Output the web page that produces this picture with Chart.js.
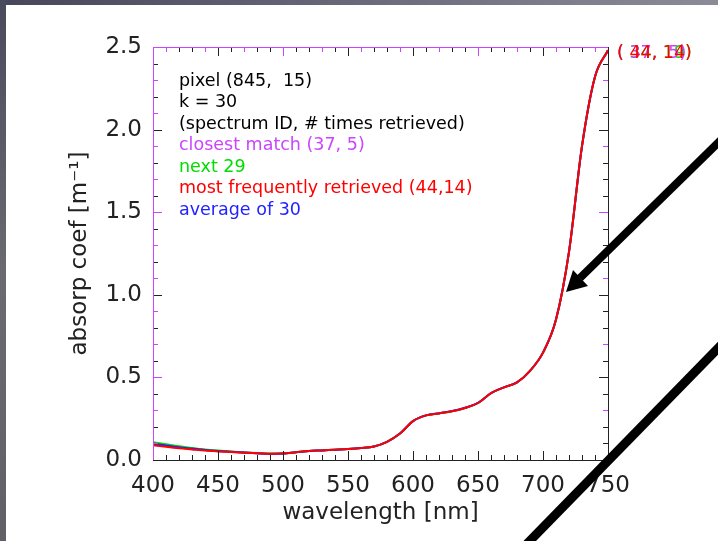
<!DOCTYPE html>
<html>
<head>
<meta charset="utf-8">
<script src="https://cdn.jsdelivr.net/npm/chart.js@4.4.1/dist/chart.umd.min.js"></script>
<style>
  html, body { margin: 0; padding: 0; background: #fff; }
  #wrap { width: 718px; height: 541px; position: relative; }
</style>
</head>
<body>
<div id="wrap"><canvas id="absChart" width="718" height="541"></canvas></div>
<script>
// wavelengths (nm) and absorption values
const wavelengths = [400, 410, 420, 430, 440, 450, 460, 470, 480, 490, 500, 510, 520, 530, 540, 550, 560, 570,
  580, 590, 600, 610, 620, 630, 640, 650, 660, 670, 680, 690, 700, 710, 720, 730, 740, 750];

// most frequently retrieved (44,14)
const mostFrequent = [0.090, 0.080, 0.071, 0.064, 0.057, 0.052, 0.048, 0.044, 0.041, 0.038, 0.040, 0.047, 0.054,
  0.058, 0.062, 0.066, 0.072, 0.082, 0.110, 0.160, 0.235, 0.270, 0.282, 0.295, 0.315, 0.345, 0.405, 0.440,
  0.470, 0.540, 0.650, 0.850, 1.260, 1.900, 2.320, 2.480];
// next 29
const next29 = [0.107, 0.095, 0.083, 0.073, 0.064, 0.057, 0.051, 0.046, 0.042, 0.039, 0.040, 0.047, 0.054,
  0.058, 0.062, 0.066, 0.072, 0.082, 0.110, 0.160, 0.235, 0.270, 0.282, 0.295, 0.315, 0.345, 0.405, 0.440,
  0.470, 0.540, 0.650, 0.850, 1.260, 1.900, 2.320, 2.480];
// average of 30
const average30 = [0.100, 0.088, 0.077, 0.069, 0.061, 0.055, 0.050, 0.045, 0.041, 0.037, 0.039, 0.047, 0.054,
  0.058, 0.062, 0.066, 0.072, 0.082, 0.110, 0.160, 0.235, 0.270, 0.283, 0.296, 0.316, 0.346, 0.404, 0.440,
  0.470, 0.540, 0.650, 0.850, 1.260, 1.900, 2.320, 2.480];
// closest match (37,5)
const closestMatch = [0.095, 0.084, 0.075, 0.067, 0.060, 0.054, 0.049, 0.045, 0.041, 0.038, 0.040, 0.047, 0.054,
  0.058, 0.062, 0.066, 0.072, 0.082, 0.110, 0.160, 0.235, 0.270, 0.282, 0.295, 0.315, 0.345, 0.405, 0.440,
  0.470, 0.540, 0.650, 0.850, 1.260, 1.900, 2.320, 2.480];

const xTickLabels = [400, 450, 500, 550, 600, 650, 700, 750];
const yTickLabels = [0.0, 0.5, 1.0, 1.5, 2.0, 2.5];

const MAGENTA = "#cc44ff";
const GREEN = "#00dd00";
const RED = "#ff0000";
const BLUE = "#2222ff";
const INK = "#222222";
const FONT = "'DejaVu Sans', sans-serif";

const infoLines = [
  { text: "pixel (845,  15)", color: "#000000" },
  { text: "k = 30", color: "#000000" },
  { text: "(spectrum ID, # times retrieved)", color: "#000000" },
  { text: "closest match (37, 5)", color: MAGENTA },
  { text: "next 29", color: GREEN },
  { text: "most frequently retrieved (44,14)", color: RED },
  { text: "average of 30", color: BLUE },
];

function pairs(ys) {
  return wavelengths.map((w, i) => ({ x: w, y: ys[i] }));
}

// frame, background, inward ticks, text block and the arrows
const decorations = {
  id: "decorations",
  beforeDraw(chart) {
    const c = chart.ctx;
    c.save();
    c.fillStyle = "#ffffff";
    c.fillRect(0, 0, chart.width, chart.height);
    const top = c.createLinearGradient(0, 0, chart.width, 0);
    top.addColorStop(0, "#46465c");
    top.addColorStop(1, "#8c8c98");
    c.fillStyle = top;
    c.fillRect(0, 0, chart.width, 5);
    const left = c.createLinearGradient(0, 0, 0, chart.height);
    left.addColorStop(0, "#4a4a5e");
    left.addColorStop(0.5, "#6a6a70");
    left.addColorStop(1, "#606066");
    c.fillStyle = left;
    c.fillRect(0, 0, 6, chart.height);
    c.restore();
  },
  afterDraw(chart) {
    const c = chart.ctx;
    const { left, right, top, bottom } = chart.chartArea;
    const xs = chart.scales.x, ys = chart.scales.y;
    c.save();
    c.lineWidth = 1;

    // x ticks every 10 nm, majors at labels
    for (let v = 400, i = 0; v <= 750; v += 10, i++) {
      const px = Math.round(xs.getPixelForValue(v)) + 0.5;
      const major = v % 50 === 0;
      const len = major ? 9 : 5;
      c.strokeStyle = INK;
      c.beginPath(); c.moveTo(px, bottom); c.lineTo(px, bottom - len); c.stroke();
      c.strokeStyle = i % 3 === 1 ? MAGENTA : INK;
      c.beginPath(); c.moveTo(px, top); c.lineTo(px, top + len); c.stroke();
    }
    // y ticks every 0.1
    for (let i = 0; i <= 25; i++) {
      const py = Math.round(ys.getPixelForValue(i / 10)) + 0.5;
      const major = i % 5 === 0;
      const len = major ? 9 : 5;
      c.strokeStyle = i % 2 === 1 ? MAGENTA : INK;
      c.beginPath(); c.moveTo(left, py); c.lineTo(left + len, py); c.stroke();
      c.strokeStyle = i % 4 === 3 ? MAGENTA : INK;
      c.beginPath(); c.moveTo(right, py); c.lineTo(right - len, py); c.stroke();
    }
    // frame
    c.strokeStyle = INK;
    c.beginPath(); c.moveTo(left, bottom + 0.5); c.lineTo(right + 0.5, bottom + 0.5); c.lineTo(right + 0.5, top); c.stroke();
    c.strokeStyle = MAGENTA;
    c.beginPath(); c.moveTo(left + 0.5, bottom); c.lineTo(left + 0.5, top + 0.5); c.lineTo(right, top + 0.5); c.stroke();

    // text block
    c.font = "17.5px " + FONT;
    c.textBaseline = "middle";
    c.textAlign = "left";
    infoLines.forEach((ln, i) => {
      c.fillStyle = ln.color;
      c.fillText(ln.text, 179, 81 + i * 21.5);
    });
    // overprinted curve labels at the top right
    const tagX = right + 9, tagY = top + 6;
    [["( 34, 19)", GREEN], ["( 37,  5)", MAGENTA], ["( 44, 14)", RED]].forEach(([t, col]) => {
      c.fillStyle = col;
      c.fillText(t, tagX, tagY);
    });

    // black arrow and stroke drawn over the figure
    c.strokeStyle = "#000";
    c.fillStyle = "#000";
    c.lineCap = "butt";
    c.lineWidth = 8;
    c.beginPath(); c.moveTo(724, 137); c.lineTo(580, 278); c.stroke();
    c.beginPath(); c.moveTo(566, 292); c.lineTo(588, 286); c.lineTo(573, 270); c.closePath(); c.fill();
    c.lineWidth = 9;
    c.beginPath(); c.moveTo(726, 340); c.lineTo(518, 553); c.stroke();
    c.restore();
  },
};

new Chart(document.getElementById("absChart").getContext("2d"), {
  type: "line",
  data: {
    datasets: [
      { label: "most frequently retrieved", data: pairs(mostFrequent), borderColor: RED },
      { label: "average of 30", data: pairs(average30), borderColor: BLUE },
      { label: "next 29", data: pairs(next29), borderColor: GREEN },
      { label: "closest match", data: pairs(closestMatch), borderColor: MAGENTA },
    ].map(d => Object.assign(d, { borderWidth: 2, pointRadius: 0, cubicInterpolationMode: "monotone", fill: false })),
  },
  options: {
    responsive: false,
    animation: false,
    layout: { padding: { left: 0, right: 110, top: 47, bottom: 0 } },
    plugins: { legend: { display: false }, tooltip: { enabled: false } },
    scales: {
      x: {
        type: "linear",
        min: 400,
        max: 750,
        grid: { display: false, drawTicks: false },
        border: { display: false },
        afterBuildTicks: s => { s.ticks = xTickLabels.map(v => ({ value: v })); },
        afterFit: s => { s.height = 81; },
        ticks: {
          autoSkip: false, maxRotation: 0, padding: 12, color: "#222",
          font: { family: FONT, size: 23 },
          callback: v => String(v),
        },
        title: { display: true, text: "wavelength [nm]", color: "#222", font: { family: FONT, size: 23 }, padding: { top: 14, bottom: 14 } },
      },
      y: {
        min: 0,
        max: 2.5,
        grid: { display: false, drawTicks: false },
        border: { display: false },
        afterBuildTicks: s => { s.ticks = yTickLabels.map(v => ({ value: v })); },
        afterFit: s => { s.width = 153; },
        ticks: {
          padding: 11, color: "#222",
          font: { family: FONT, size: 23 },
          callback: v => v.toFixed(1),
        },
        title: { display: true, text: "absorp coef [m\u207B\u00B9]", color: "#222", font: { family: FONT, size: 23 }, padding: { top: 66, bottom: 0 } },
      },
    },
  },
  plugins: [decorations],
});
</script>
</body>
</html>
